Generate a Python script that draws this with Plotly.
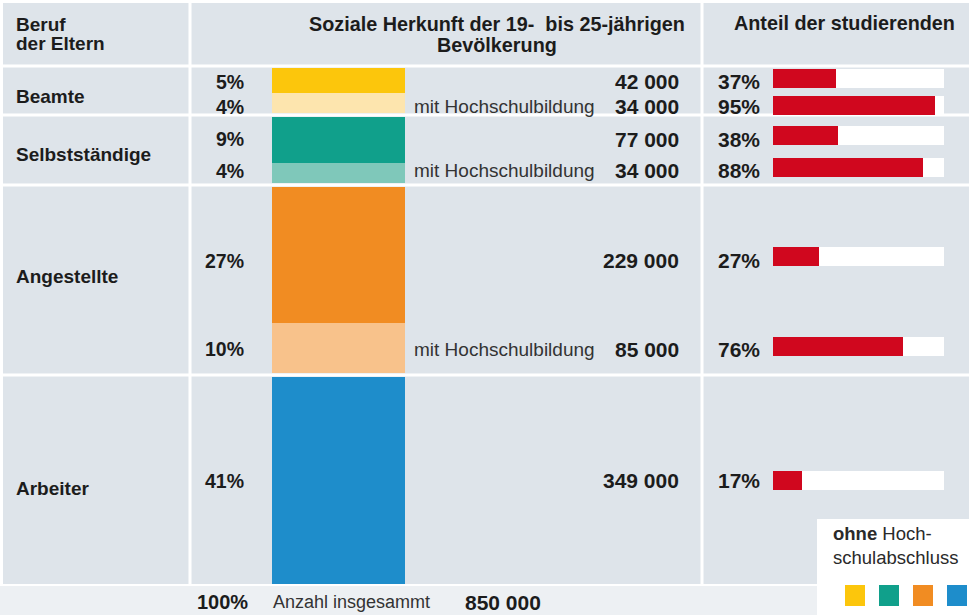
import plotly.graph_objects as go

# ---------------- data ----------------
groups = ["Beamte", "Selbstständige", "Angestellte", "Arbeiter"]
seg_group = [0, 0, 1, 1, 2, 2, 3]
seg_values = [42000, 34000, 77000, 34000, 229000, 85000, 349000]
seg_shares = ["5%", "4%", "9%", "4%", "27%", "10%", "41%"]
seg_hochschul = [False, True, False, True, False, True, False]
studierende = [37, 95, 38, 88, 27, 76, 17]
total_share = "100%"
total_value = 850000

seg_colors = ["#fcc60c", "#fde5ae", "#10a08b", "#7fc8ba", "#f18c22", "#f8c28b", "#1e8dcb"]
legend_colors = ["#fcc60c", "#10a08b", "#f18c22", "#1e8dcb"]

# ---------------- layout constants ----------------
W, H = 969, 615
BG = "#dee4ea"
BOTTOM_BG = "#edf0f3"
TXT = "#1c1c1c"
RED = "#d0071e"
FONT = "Liberation Sans, Arial, sans-serif"

S = 0.593 / 1000.0      # pixels per person
BAR_TOP = 68            # pixel row where the column starts
GAP = 4 / S             # gap between groups (in persons units)
Y_TOP = -BAR_TOP / S
Y_BOT = (H - BAR_TOP) / S

# hand-placement nudges of the original design (pixels)
group_label_dy = [5.5, 5, -3, 7.5]
seg_label_dy = [1.5, 4, -0.5, -2, 6, 1.5, 0]
red_bar_dy = [-1.5, 3, -4, -5, 2, -1, 0]


def px(x):
    return x / W


def py(y):
    return 1 - y / H


def fmt(v):
    return f"{v:,}".replace(",", " ")


# bases of stacked segments
bases = []
pos = 0.0
prev = seg_group[0]
group_ends = []
for v, g in zip(seg_values, seg_group):
    if g != prev:
        group_ends.append(pos)
        pos += GAP
        prev = g
    bases.append(pos)
    pos += v
centers = [b + v / 2 for b, v in zip(bases, seg_values)]
group_start = {}
group_stop = {}
for b, v, g in zip(bases, seg_values, seg_group):
    group_start.setdefault(g, b)
    group_stop[g] = b + v

red_y = [c + d / S for c, d in zip(centers, red_bar_dy)]

fig = go.Figure()

# stacked column
fig.add_trace(go.Bar(
    x=[0] * len(seg_values), y=seg_values, base=bases, width=1,
    marker=dict(color=seg_colors, line=dict(width=0)),
    xaxis="x", yaxis="y", hoverinfo="skip", showlegend=False,
))

# right panel: track + red bars
fig.add_trace(go.Bar(
    x=[100] * len(studierende), y=red_y, base=0, orientation="h",
    width=19 / S, marker=dict(color="white", line=dict(width=0)),
    xaxis="x2", yaxis="y", hoverinfo="skip", showlegend=False,
))
fig.add_trace(go.Bar(
    x=studierende, y=red_y, base=0, orientation="h",
    width=19 / S, marker=dict(color=RED, line=dict(width=0)),
    xaxis="x2", yaxis="y", hoverinfo="skip", showlegend=False,
))

shapes = []
WL = "white"
# top/left white border
shapes.append(dict(type="rect", xref="paper", yref="paper", x0=0, x1=1, y0=py(3), y1=1,
                   fillcolor=WL, line=dict(width=0), layer="below"))
shapes.append(dict(type="rect", xref="paper", yref="paper", x0=0, x1=px(3), y0=py(H), y1=1,
                   fillcolor=WL, line=dict(width=0), layer="below"))
# bottom row
shapes.append(dict(type="rect", xref="paper", yref="paper", x0=0, x1=1, y0=0, y1=py(585),
                   fillcolor=BOTTOM_BG, line=dict(width=0), layer="below"))
shapes.append(dict(type="line", xref="paper", yref="paper", x0=0, x1=1, y0=py(585), y1=py(585),
                   line=dict(color=WL, width=2), layer="below"))
# header separator
shapes.append(dict(type="line", xref="paper", yref="paper", x0=0, x1=1, y0=py(66), y1=py(66),
                   line=dict(color=WL, width=3), layer="below"))
# group separators
for e in group_ends:
    yv = e + GAP / 2
    shapes.append(dict(type="line", xref="paper", yref="y", x0=0, x1=1, y0=yv, y1=yv,
                       line=dict(color=WL, width=3), layer="below"))
# vertical separators
for xv in (190, 702):
    shapes.append(dict(type="line", xref="paper", yref="paper", x0=px(xv), x1=px(xv),
                       y0=py(585), y1=1, line=dict(color=WL, width=3), layer="below"))
# legend box
shapes.append(dict(type="rect", xref="paper", yref="paper", x0=px(817), x1=1, y0=0, y1=py(519),
                   fillcolor="white", line=dict(width=0), layer="below"))
for i, c in enumerate(legend_colors):
    x0 = 845 + i * 34
    shapes.append(dict(type="rect", xref="paper", yref="paper", x0=px(x0), x1=px(x0 + 20),
                       y0=py(606), y1=py(585), fillcolor=c, line=dict(width=0), layer="above"))

ann = []


def add(text, x, y, size=19, bold=True, xanchor="left", yref="paper", color=TXT):
    ann.append(dict(
        text=f"<b>{text}</b>" if bold else text,
        x=px(x), y=py(y) if yref == "paper" else y, xref="paper", yref=yref,
        xanchor=xanchor, yanchor="middle", showarrow=False,
        font=dict(family=FONT, size=size, color=color),
    ))


# headers
add("Beruf", 14, 24, size=19)
add("der Eltern", 14, 44, size=19)
add("Soziale Herkunft der 19-  bis 25-jährigen", 497, 24, size=19.8, xanchor="center")
add("Bevölkerung", 497, 45, size=19.8, xanchor="center")
add("Anteil der studierenden", 844, 23, size=19.8, xanchor="center")

# group labels
for g, name in enumerate(groups):
    yc = (group_start[g] + group_stop[g]) / 2 + group_label_dy[g] / S
    add(name, 14, yc, size=19, yref="y")

# segment labels
for i, v in enumerate(seg_values):
    yc = centers[i] + seg_label_dy[i] / S
    add(seg_shares[i], 246, yc, size=19.5, xanchor="right", yref="y")
    add(fmt(v), 681, yc, size=21, xanchor="right", yref="y")
    if seg_hochschul[i]:
        add("mit Hochschulbildung", 412, yc, size=19, bold=False, yref="y", color="#333333")
    add(f"{studierende[i]}%", 762, yc, size=21, xanchor="right", yref="y")

# bottom row
add(total_share, 250, 602, size=20, xanchor="right")
add("Anzahl insgesammt", 271, 602, size=18, bold=False, color="#333333")
add(fmt(total_value), 463, 602, size=21)

# legend text (one two-line text block)
ann.append(dict(text="<b>ohne</b> Hoch-<br>schulabschluss", x=px(831), y=py(545),
                xref="paper", yref="paper", xanchor="left", yanchor="middle", align="left",
                showarrow=False, font=dict(family=FONT, size=18.5, color="#2a2a2a")))

fig.update_layout(
    width=W, height=H, autosize=False,
    margin=dict(l=0, r=0, t=0, b=0, pad=0),
    paper_bgcolor=BG, plot_bgcolor="rgba(0,0,0,0)",
    barmode="overlay", bargap=0,
    showlegend=False,
    xaxis=dict(domain=[px(272), px(405)], range=[-0.5, 0.5], visible=False, fixedrange=True),
    xaxis2=dict(domain=[px(773), px(944)], range=[0, 100], visible=False, anchor="y",
                fixedrange=True),
    yaxis=dict(domain=[0, 1], range=[Y_BOT, Y_TOP], visible=False, fixedrange=True),
    shapes=shapes,
    annotations=ann,
)

fig.write_html("out.html", config={"displayModeBar": False})
